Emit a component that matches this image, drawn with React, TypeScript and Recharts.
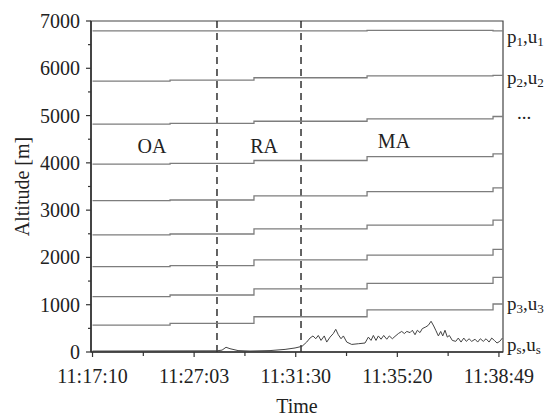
import {
  LineChart, Line, XAxis, YAxis, ReferenceLine, ReferenceArea, ReferenceDot,
} from "recharts";

const FONT = "'Liberation Serif', 'Times New Roman', serif";

// time axis is an index axis: one unit between labelled ticks
const xTicks = [0, 0.5, 1, 1.5, 2, 2.5, 3, 3.5, 4];
const xTickLabels = ["11:17:10", "11:27:03", "11:31:30", "11:35:20", "11:38:49"];
const yTicks = [0, 500, 1000, 1500, 2000, 2500, 3000, 3500, 4000, 4500, 5000, 5500, 6000, 6500, 7000];

// times at which the level lines step
const stepTimes = [0, 0.763, 1.589, 2.702, 3.942, 4.04];

const level1 = [6790, 6790, 6790, 6800, 6790, 6790];
const level2 = [5730, 5750, 5800, 5840, 5850, 5850];
const level3 = [4820, 4835, 4880, 4930, 4980, 4980];
const level4 = [3975, 3990, 4050, 4130, 4190, 4190];
const level5 = [3200, 3215, 3300, 3390, 3470, 3470];
const level6 = [2475, 2495, 2605, 2685, 2790, 2790];
const level7 = [1805, 1825, 1950, 2050, 2170, 2170];
const level8 = [1170, 1205, 1335, 1450, 1580, 1580];
const level9 = [570, 605, 745, 890, 1015, 1015];
const levels = [level1, level2, level3, level4, level5, level6, level7, level8, level9];

// ground (ps,us) trace
const groundTimes = [
  0, 1.225, 1.275, 1.314, 1.353, 1.432, 1.55, 1.747, 1.895, 1.993, 2.062, 2.108,
  2.141, 2.17, 2.197, 2.222, 2.249, 2.281, 2.305, 2.338, 2.37, 2.394, 2.419, 2.446,
  2.469, 2.502, 2.551, 2.616, 2.682, 2.715, 2.741, 2.764, 2.79, 2.813, 2.84, 2.866,
  2.896, 2.921, 2.951, 2.977, 3.01, 3.043, 3.069, 3.093, 3.125, 3.148, 3.174, 3.197,
  3.223, 3.246, 3.28, 3.305, 3.332, 3.358, 3.378, 3.404, 3.427, 3.447, 3.469, 3.492,
  3.512, 3.541, 3.575, 3.6, 3.627, 3.654, 3.679, 3.706, 3.732, 3.765, 3.791, 3.817,
  3.846, 3.873, 3.903, 3.929, 3.955, 3.981, 4.008, 4.034,
];
const groundAlt = [
  20, 25, 40, 100, 70, 30, 20, 30, 55, 85, 120, 210,
  296, 340, 280, 350, 245, 340, 210, 315, 390, 480, 365, 280,
  340, 210, 160, 175, 190, 315, 245, 350, 245, 340, 270, 350,
  270, 340, 280, 330, 390, 435, 390, 435, 410, 460, 365, 460,
  410, 495, 530, 565, 650, 550, 460, 340, 435, 340, 460, 315,
  350, 245, 225, 295, 210, 295, 225, 280, 225, 270, 210, 280,
  225, 280, 210, 295, 245, 190, 225, 295,
];

const phaseLines = [1.225, 2.052];
const phaseNames = ["OA", "RA", "MA"];
const phaseX = [0.586, 1.688, 2.967];
const phaseY = [4357, 4357, 4463];

const rightSubs = ["1", "2", "3", "s"];
const rightY = [6683, 5816, 1036, 169];
const dotsY = 5055;

const levelData = levels.map((vals) => stepTimes.map((t, i) => ({ t, v: vals[i] })));
const groundData = groundTimes.map((t, i) => ({ t, v: groundAlt[i] }));

function YTick(props: any) {
  const { x, y, payload } = props;
  const major = payload.value % 1000 === 0;
  return (
    <g>
      <line x1={x - (major ? 5 : 3)} x2={x} y1={y} y2={y} stroke="#333" strokeWidth={1.2} />
      {major && (
        <text x={x - 11} y={y} dy={7} textAnchor="end" fontFamily={FONT} fontSize={20} fill="#222">
          {payload.value}
        </text>
      )}
    </g>
  );
}

function XTick(props: any) {
  const { x, y, payload } = props;
  const major = Number.isInteger(payload.value);
  return (
    <g>
      <line x1={x} x2={x} y1={y} y2={y + (major ? 5 : 4)} stroke="#333" strokeWidth={1.2} />
      {major && (
        <text x={x} y={y + 31} textAnchor="middle" fontFamily={FONT} fontSize={20} fill="#222">
          {xTickLabels[payload.value]}
        </text>
      )}
    </g>
  );
}

function SubLabel({ cx, cy, sub }: any) {
  return (
    <text x={cx + 4} y={cy} fontFamily={FONT} fontSize={19} fill="#222" dominantBaseline="central">
      <tspan>p</tspan>
      <tspan fontSize={13} dy={5}>{sub}</tspan>
      <tspan dy={-5}>,u</tspan>
      <tspan fontSize={13} dy={5}>{sub}</tspan>
    </text>
  );
}

export default function App() {
  return (
    <div style={{ position: "absolute", left: 0, top: 0, background: "#fff" }}>
      <LineChart width={554} height={420} margin={{ top: 21, right: 51, bottom: 0, left: 0 }}>
        <XAxis
          type="number"
          dataKey="t"
          domain={[-0.015, 4.04]}
          ticks={xTicks}
          allowDataOverflow
          height={68}
          tickSize={0}
          tickMargin={0}
          tickLine={false}
          tick={<XTick />}
          axisLine={{ stroke: "#333", strokeWidth: 1.6 }}
          label={{ value: "Time", position: "insideBottom", offset: 7, fontFamily: FONT, fontSize: 20, fill: "#222" }}
        />
        <YAxis
          type="number"
          domain={[0, 7000]}
          ticks={yTicks}
          width={91}
          tickSize={0}
          tickMargin={0}
          tickLine={false}
          tick={<YTick />}
          axisLine={{ stroke: "#333", strokeWidth: 1.6 }}
          label={{
            value: "Altitude [m]", angle: -90, position: "insideLeft", offset: 22,
            fontFamily: FONT, fontSize: 20, fill: "#222", style: { textAnchor: "middle" },
          }}
        />
        <ReferenceArea x1={-0.015} x2={4.04} y1={0} y2={7000} fill="none" stroke="#444" strokeWidth={1.2} />
        {phaseLines.map((x) => (
          <ReferenceLine key={x} x={x} stroke="#222" strokeWidth={1.4} strokeDasharray="7 5" />
        ))}
        {levelData.map((d, i) => (
          <Line
            key={i}
            data={d}
            dataKey="v"
            type="stepAfter"
            stroke="#7d7d7d"
            strokeWidth={1.3}
            dot={false}
            isAnimationActive={false}
          />
        ))}
        <Line data={groundData} dataKey="v" type="linear" stroke="#444" strokeWidth={1} dot={false} isAnimationActive={false} />
        {phaseNames.map((name, i) => (
          <ReferenceDot
            key={name}
            x={phaseX[i]}
            y={phaseY[i]}
            r={0}
            ifOverflow="visible"
            shape={(p: any) => (
              <text x={p.cx} y={p.cy} textAnchor="middle" dominantBaseline="central" fontFamily={FONT} fontSize={20} fill="#222">
                {name}
              </text>
            )}
          />
        ))}
        {rightSubs.map((s, i) => (
          <ReferenceDot
            key={s}
            x={4.04}
            y={rightY[i]}
            r={0}
            ifOverflow="visible"
            shape={(p: any) => <SubLabel cx={p.cx} cy={p.cy} sub={s} />}
          />
        ))}
        <ReferenceDot
          x={4.04}
          y={dotsY}
          r={0}
          ifOverflow="visible"
          shape={(p: any) => (
            <text x={p.cx + 21} y={p.cy} textAnchor="middle" dominantBaseline="central" fontFamily={FONT} fontSize={19} fill="#222">
              ...
            </text>
          )}
        />
      </LineChart>
    </div>
  );
}
